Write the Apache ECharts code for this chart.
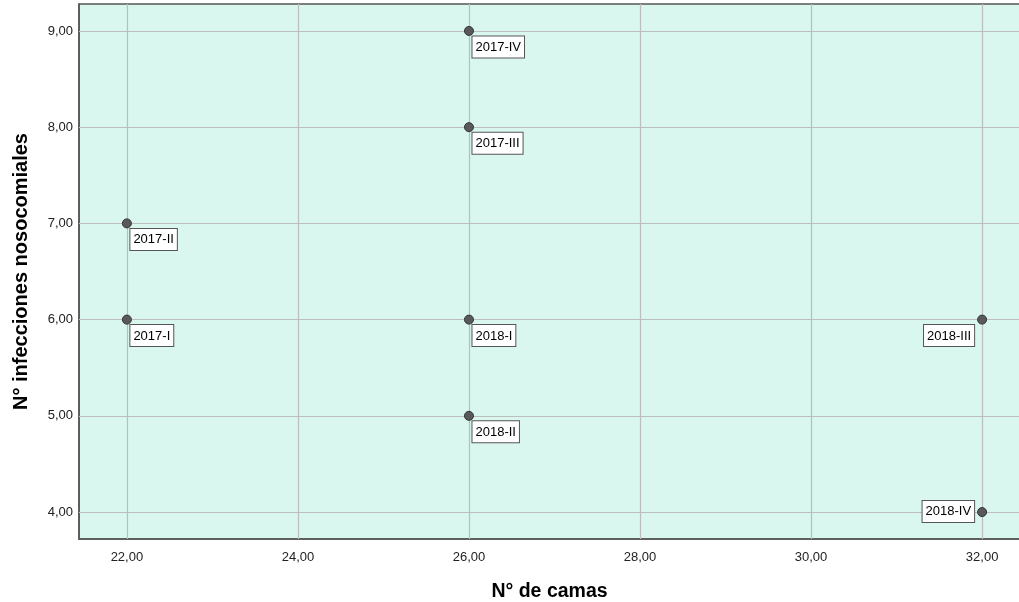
<!DOCTYPE html>
<html><head><meta charset="utf-8">
<script src="https://cdn.jsdelivr.net/npm/echarts@6/dist/echarts.min.js"></script>
<style>html,body{margin:0;padding:0;background:#fff}#c{width:1019px;height:602px}</style>
</head><body><div id="c"></div>
<script>
const periods = ['2017-I','2017-II','2017-III','2017-IV','2018-I','2018-II','2018-III','2018-IV'];
const camas = [22, 22, 26, 26, 26, 26, 32, 32];
const infecciones = [6, 7, 8, 9, 6, 5, 6, 4];
const xTicks = [22, 24, 26, 28, 30, 32];
const yTicks = [4, 5, 6, 7, 8, 9];
const leftLabels = {'2018-III': 'bottomLeft', '2018-IV': 'left'};

const FONT = 'Arial, Liberation Sans, sans-serif';
const fmt = v => v.toFixed(2).replace('.', ',');
const chart = echarts.init(document.getElementById('c'));
const labelBase = {
  show: true, formatter: p => p.data.name, color: '#000', fontSize: 13, lineHeight: 14,
  fontFamily: FONT,
  backgroundColor: '#fff', borderColor: '#555', borderWidth: 1, padding: [4, 3, 3, 3]
};
const pts = periods.map((n, i) => {
  const d = {name: n, value: [camas[i], infecciones[i]]};
  if (leftLabels[n] === 'left') d.label = {position: [-3, 4.5], align: 'right', verticalAlign: 'middle'};
  else if (leftLabels[n] === 'bottomLeft') d.label = {position: [-3, 10.5], align: 'right', verticalAlign: 'top'};
  else d.label = {position: [8.5, 10.5], align: 'left', verticalAlign: 'top'};
  return d;
});
const gridLineStyle = {color: '#bdbdbd', width: 1.2, type: 'solid'};
chart.setOption({
  animation: false,
  grid: {left: 79, top: 4, width: 951, height: 535, outerBoundsMode: 'none', containLabel: false,
         show: true, backgroundColor: '#d9f6ef', borderColor: '#555', borderWidth: 1.5},
  xAxis: {
    type: 'value', min: 21.44, max: 32.56,
    name: 'N° de camas', nameLocation: 'middle', nameGap: 43,
    nameTextStyle: {fontSize: 19.5, fontWeight: 'bold', color: '#000', fontFamily: FONT, padding: [0, 10, 0, 0]},
    axisLine: {show: true, lineStyle: {color: '#555', width: 1.5}},
    axisTick: {show: false, customValues: xTicks},
    splitLine: {show: false},
    axisLabel: {customValues: xTicks, formatter: fmt, color: '#222', fontSize: 13, margin: 12, fontFamily: FONT}
  },
  yAxis: {
    type: 'value', min: 3.72, max: 9.28,
    name: 'N° infecciones nosocomiales', nameLocation: 'middle', nameGap: 48, nameRotate: 90,
    nameTextStyle: {fontSize: 20, fontWeight: 'bold', color: '#000', fontFamily: FONT},
    axisLine: {show: true, lineStyle: {color: '#555', width: 1.5}},
    axisTick: {show: false, customValues: yTicks},
    splitLine: {show: false},
    axisLabel: {customValues: yTicks, formatter: fmt, color: '#222', fontSize: 13, margin: 6, fontFamily: FONT}
  },
  series: [
    {
      type: 'scatter', data: [], silent: true, z: 1,
      markLine: {
        silent: true, symbol: 'none', label: {show: false}, lineStyle: gridLineStyle, animation: false,
        data: xTicks.map(v => ({xAxis: v})).concat(yTicks.map(v => ({yAxis: v})))
      }
    },
    {
      type: 'scatter', z: 5, symbol: 'circle', symbolSize: 9,
      itemStyle: {color: '#595959', borderColor: '#333', borderWidth: 1, opacity: 1},
      label: labelBase,
      data: pts
    }
  ]
});
</script></body></html>
